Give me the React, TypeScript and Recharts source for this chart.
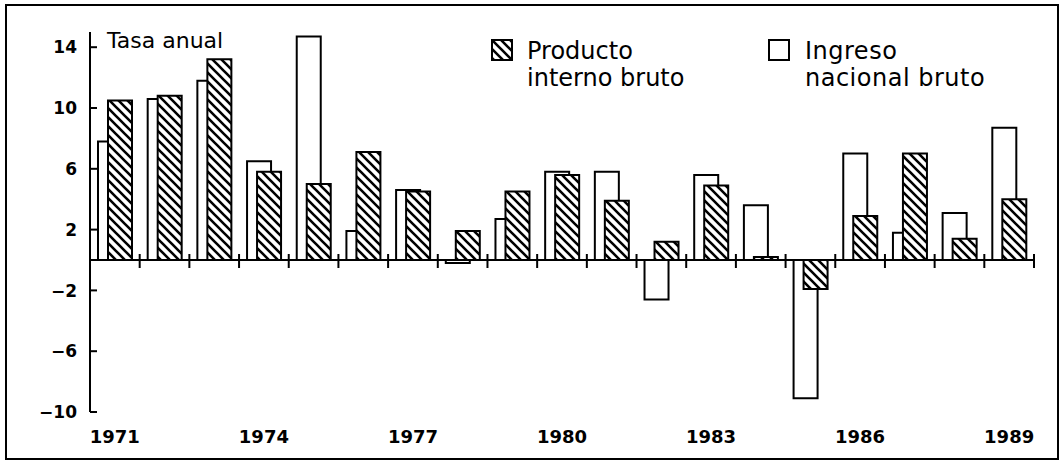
import { BarChart, Bar, XAxis, YAxis, ReferenceLine } from 'recharts'

const years = [
  '1971', '1972', '1973', '1974', '1975', '1976', '1977', '1978', '1979', '1980',
  '1981', '1982', '1983', '1984', '1985', '1986', '1987', '1988', '1989',
]
const ingresoNacional = [7.8, 10.6, 11.8, 6.5, 14.7, 1.9, 4.6, -0.2, 2.7, 5.8, 5.8, -2.6, 5.6, 3.6, -9.1, 7.0, 1.8, 3.1, 8.7]
const productoInterno = [10.5, 10.8, 13.2, 5.8, 5.0, 7.1, 4.5, 1.9, 4.5, 5.6, 3.9, 1.2, 4.9, 0.2, -1.9, 2.9, 7.0, 1.4, 4.0]
const yTicks = [-10, -6, -2, 2, 6, 10, 14]
const yDomain: [number, number] = [-10, 15]

const chartData = years.map((year, i) => ({
  year,
  ingreso: ingresoNacional[i],
  producto: productoInterno[i],
}))

const CHART_W = 1061
const CHART_H = 462
const MARGIN = { top: 32, right: 27, bottom: 10, left: 0 }
const YAXIS_W = 90
const XAXIS_H = 40
const PLOT_W = CHART_W - MARGIN.left - MARGIN.right - YAXIS_W
const PLOT_H = CHART_H - MARGIN.top - MARGIN.bottom - XAXIS_H
const ZERO_Y = MARGIN.top + (yDomain[1] / (yDomain[1] - yDomain[0])) * PLOT_H
const BAND = PLOT_W / years.length

const digitFont = '"DejaVu Sans", sans-serif'

const formatTick = (v: number) => (v < 0 ? `\u2212${Math.abs(v)}` : `${v}`)

const YTick = ({ x, y, payload }: { x?: number; y?: number; payload?: { value: number } }) => {
  if (x == null || y == null || !payload) return null
  return (
    <g>
      <line x1={x} x2={x + 7} y1={y} y2={y} stroke="#000" strokeWidth={2} />
      <text x={x - 13} y={y} dy="0.36em" textAnchor="end" fontFamily={digitFont} fontWeight="bold" fontSize={17} fill="#000">
        {formatTick(payload.value)}
      </text>
    </g>
  )
}

const XTick = ({ x, y, payload }: { x?: number; y?: number; payload?: { value: string } }) => {
  if (x == null || y == null || !payload) return null
  const idx = years.indexOf(payload.value)
  return (
    <g>
      <line x1={x + BAND / 2} x2={x + BAND / 2} y1={ZERO_Y - 6} y2={ZERO_Y + 8} stroke="#000" strokeWidth={2} />
      {idx % 3 === 0 && (
        <text x={x} y={y + 31} textAnchor="middle" fontFamily={digitFont} fontWeight="bold" fontSize={18} fill="#000">
          {payload.value}
        </text>
      )}
    </g>
  )
}

const textStyle = {
  position: 'absolute' as const,
  fontFamily: '"DejaVu Sans", sans-serif',
  color: '#000',
  whiteSpace: 'nowrap' as const,
}

export default function App() {
  return (
    <div style={{ position: 'absolute', left: 0, top: 0, width: CHART_W, height: CHART_H, background: '#fff' }}>
      <svg width={0} height={0} style={{ position: 'absolute' }}>
        <defs>
          <pattern id="hatch" patternUnits="userSpaceOnUse" width={9} height={9}>
            <rect width={9} height={9} fill="#fff" />
            <path d="M0,0 L9,9 M-2,7 L2,11 M7,-2 L11,2" stroke="#000" strokeWidth={2.6} />
          </pattern>
        </defs>
      </svg>

      <BarChart
        width={CHART_W}
        height={CHART_H}
        data={chartData}
        margin={MARGIN}
        barSize={24}
        barGap={-14}
      >
        <XAxis
          dataKey="year"
          height={XAXIS_H}
          axisLine={false}
          tickLine={false}
          tickSize={0}
          tickMargin={0}
          interval={0}
          tick={<XTick />}
        />
        <YAxis
          width={YAXIS_W}
          domain={yDomain}
          ticks={yTicks}
          allowDataOverflow
          axisLine={{ stroke: '#000', strokeWidth: 2 }}
          tickLine={false}
          tickSize={0}
          tickMargin={0}
          tick={<YTick />}
        />
        <Bar dataKey="ingreso" fill="#fff" stroke="#000" strokeWidth={2} isAnimationActive={false} />
        <Bar dataKey="producto" fill="url(#hatch)" stroke="#000" strokeWidth={2} isAnimationActive={false} />
        <ReferenceLine y={0} stroke="#000" strokeWidth={2} />
      </BarChart>

      <div style={{ ...textStyle, left: 107, top: 30, fontSize: 22, lineHeight: '22px' }}>Tasa anual</div>

      <svg width={22} height={22} style={{ position: 'absolute', left: 491, top: 39 }}>
        <rect x={1} y={1} width={20} height={20} fill="url(#hatch)" stroke="#000" strokeWidth={2} />
      </svg>
      <div style={{ ...textStyle, left: 527, top: 38, fontSize: 24, lineHeight: '27px' }}>
        Producto
        <br />
        interno bruto
      </div>

      <svg width={22} height={22} style={{ position: 'absolute', left: 768, top: 39 }}>
        <rect x={1} y={1} width={20} height={20} fill="#fff" stroke="#000" strokeWidth={2} />
      </svg>
      <div style={{ ...textStyle, left: 805, top: 38, fontSize: 24, lineHeight: '27px', letterSpacing: 0.5 }}>
        Ingreso
        <br />
        nacional bruto
      </div>

      <div
        style={{
          position: 'absolute',
          left: 5,
          top: 4,
          width: 1054,
          height: 456,
          border: '2px solid #000',
          boxSizing: 'border-box',
          pointerEvents: 'none',
        }}
      />
    </div>
  )
}
